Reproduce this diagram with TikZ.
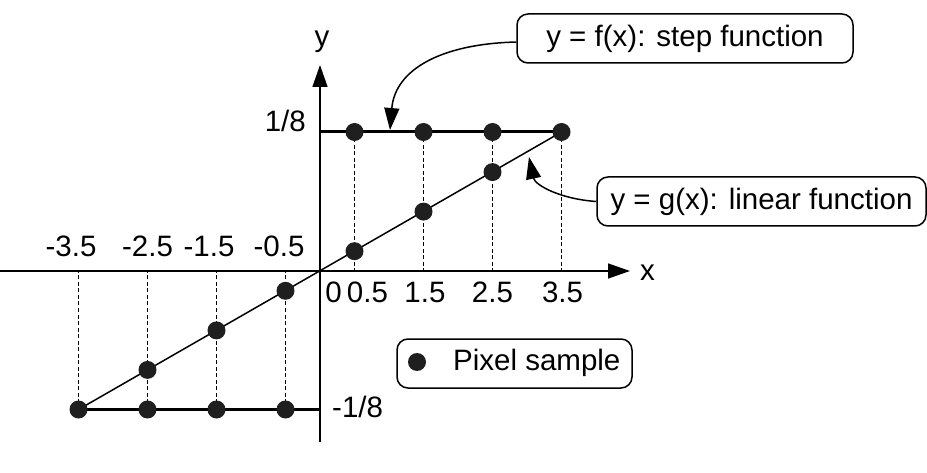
\documentclass[tikz,border=0pt]{standalone}
\usepackage{fontspec}
\setmainfont{Liberation Sans}
\usetikzlibrary{arrows.meta,backgrounds}
\begin{document}
\begin{tikzpicture}[x=1pt,y=-1pt,
  txt/.style={font=\fontsize{29.5}{34}\selectfont,inner sep=0pt},
  dot/.style={circle,fill=black!88,minimum size=18pt,inner sep=0pt},
  axis/.style={line width=1.5pt,-{Triangle[length=22pt,width=15pt]}},
  stepline/.style={line width=3pt},
  linline/.style={line width=1.5pt},
  guide/.style={dash pattern=on 4pt off 2.5pt,line width=1.4pt},
  callout/.style={draw,line width=1.5pt,rounded corners=11pt,minimum height=49pt,inner sep=0pt,font=\fontsize{29.5}{34}\selectfont},
  pointer/.style={line width=1.5pt,-{Triangle[length=22pt,width=15pt]}}]
\useasboundingbox (0,0) rectangle (927,473);

% axis coordinates
\coordinate (xs) at (0,271);
\coordinate (xe) at (630,271);
\coordinate (ys) at (320,442);
\coordinate (ye) at (320,65);
\coordinate (top0) at (320,132);
\coordinate (bot0) at (320,409.5);
\coordinate (a1) at (354.5,271);
\coordinate (a2) at (423.5,271);
\coordinate (a3) at (492.5,271);
\coordinate (a4) at (561.5,271);
\coordinate (b1) at (285.5,271);
\coordinate (b2) at (216.5,271);
\coordinate (b3) at (147.5,271);
\coordinate (b4) at (78.5,271);

% samples
\node[dot] (p1) at (354.5,132) {};
\node[dot] (p2) at (423.5,132) {};
\node[dot] (p3) at (492.5,132) {};
\node[dot] (p4) at (561.5,132) {};
\node[dot] (q1) at (354.5,251.2) {};
\node[dot] (q2) at (423.5,211.6) {};
\node[dot] (q3) at (492.5,172.1) {};
\node[dot] (n1) at (285.5,409.5) {};
\node[dot] (n2) at (216.5,409.5) {};
\node[dot] (n3) at (147.5,409.5) {};
\node[dot] (n4) at (78.5,409.5) {};
\node[dot] (m1) at (285.5,290.8) {};
\node[dot] (m2) at (216.5,330.4) {};
\node[dot] (m3) at (147.5,369.9) {};

\begin{scope}[on background layer]
  \foreach \i in {1,2,3,4} {
    \draw[guide] (p\i.center) -- (a\i);
    \draw[guide] (n\i.center) -- (b\i);
  }
  \draw[stepline] (top0) -- (p4.center);
  \draw[stepline] (n4.center) -- (bot0);
  \draw[linline] (n4.center) -- (p4.center);
  \draw[axis] (xs) -- (xe);
  \draw[axis] (ys) -- (ye);
\end{scope}

% axis labels
\node[txt,anchor=base] (ylab) at (322,47) {y};
\node[txt,anchor=base west] (xlab) at (640,280) {x};
\node[txt,anchor=base east] (lp) at (306,132) {1/8};
\node[txt,anchor=base west] (ln) at (332,417) {-1/8};
\node[txt,anchor=base] (t1) at (71,256.5) {-3.5};
\node[txt,anchor=base] (t2) at (147.5,256.5) {-2.5};
\node[txt,anchor=base] (t3) at (209,256.5) {-1.5};
\node[txt,anchor=base] (t4) at (279,256.5) {-0.5};
\node[txt,anchor=base] (u0) at (333.5,303) {0};
\node[txt,anchor=base] (u1) at (367.5,303) {0.5};
\node[txt,anchor=base] (u2) at (425,303) {1.5};
\node[txt,anchor=base] (u3) at (492.5,303) {2.5};
\node[txt,anchor=base] (u4) at (562.5,303) {3.5};

% callouts
\node[callout,minimum width=336pt] (fbox) at (685,38.5) {y = f(x): step function};
\node[callout,minimum width=329pt] (gbox) at (761.5,201.5) {y = g(x): linear function};
\coordinate (ftip) at (390,130);
\coordinate (gtip) at (529,157);
\draw[pointer] ([yshift=-3.5pt]fbox.west) .. controls (440,44) and (395,70) .. (ftip);
\draw[pointer] (gbox.west) .. controls (560,199) and (535,185) .. (gtip);

% legend
\node[callout,minimum width=235pt] (legend) at (514.5,363.5) {};
\node[dot] (ldot) at (417,362) {};
\node[txt,anchor=west] (ltext) at (453,363) {Pixel sample};
\end{tikzpicture}
\end{document}
